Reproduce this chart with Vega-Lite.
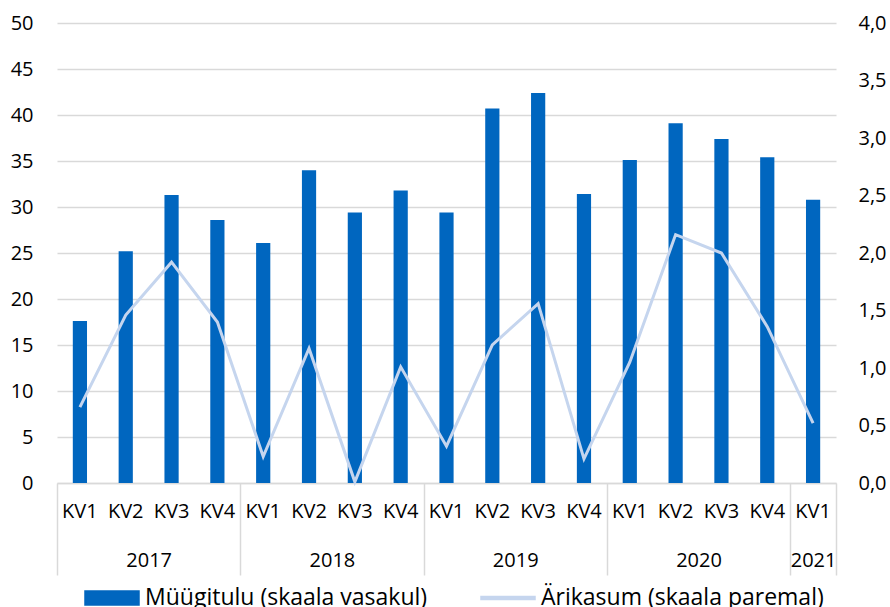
{
  "$schema": "https://vega.github.io/schema/vega-lite/v6.json",
  "width": 779,
  "height": 460,
  "autosize": "none",
  "padding": {"left": 57, "top": 23, "right": 54, "bottom": 124},
  "background": "white",
  "config": {
    "font": "Open Sans",
    "view": {"stroke": null},
    "axis": {"labelFontSize": 20, "labelColor": "#000000", "title": null}
  },
  "layer": [
    {
      "data": {
        "values": [
          {"q": "2017 KV1", "sales": 17.6, "profit": 0.66},
          {"q": "2017 KV2", "sales": 25.2, "profit": 1.46},
          {"q": "2017 KV3", "sales": 31.3, "profit": 1.92},
          {"q": "2017 KV4", "sales": 28.6, "profit": 1.40},
          {"q": "2018 KV1", "sales": 26.1, "profit": 0.23},
          {"q": "2018 KV2", "sales": 34.0, "profit": 1.17},
          {"q": "2018 KV3", "sales": 29.4, "profit": 0.01},
          {"q": "2018 KV4", "sales": 31.8, "profit": 1.01},
          {"q": "2019 KV1", "sales": 29.4, "profit": 0.32},
          {"q": "2019 KV2", "sales": 40.7, "profit": 1.20},
          {"q": "2019 KV3", "sales": 42.4, "profit": 1.56},
          {"q": "2019 KV4", "sales": 31.4, "profit": 0.21},
          {"q": "2020 KV1", "sales": 35.1, "profit": 1.05},
          {"q": "2020 KV2", "sales": 39.1, "profit": 2.16},
          {"q": "2020 KV3", "sales": 37.4, "profit": 2.00},
          {"q": "2020 KV4", "sales": 35.4, "profit": 1.36},
          {"q": "2021 KV1", "sales": 30.8, "profit": 0.52}
        ]
      },
      "layer": [
        {
          "mark": {"type": "bar", "width": {"band": 0.31}},
          "encoding": {
            "x": {
              "field": "q", "type": "nominal",
              "scale": {"paddingInner": 0, "paddingOuter": 0},
              "axis": {
                "labelExpr": "split(datum.value, ' ')[1]",
                "labelAngle": 0,
                "ticks": false,
                "domain": true,
                "domainColor": "#d9d9d9",
                "domainWidth": 1.5,
                "labelPadding": 18,
                "grid": false
              }
            },
            "y": {
              "field": "sales", "type": "quantitative",
              "scale": {"domain": [0, 50], "nice": false},
              "axis": {
                "orient": "left",
                "values": [0, 5, 10, 15, 20, 25, 30, 35, 40, 45, 50],
                "grid": true,
                "gridColor": "#d9d9d9",
                "gridWidth": 1.5,
                "domain": false,
                "ticks": false,
                "labelPadding": 24
              }
            },
            "color": {
              "datum": "Müügitulu (skaala vasakul)",
              "scale": {
                "domain": ["Müügitulu (skaala vasakul)", "Ärikasum (skaala paremal)"],
                "range": ["#0066bf", "#c5d5ee"]
              },
              "legend": {
                "title": null,
                "orient": "none",
                "legendX": 27,
                "legendY": 547,
                "direction": "horizontal",
                "labelFontSize": 23,
                "labelLimit": 500,
                "labelColor": "#000000",
                "symbolSize": 2916,
                "labelOffset": 5,
                "columnPadding": 50,
                "encode": {
                  "symbols": {
                    "update": {
                      "shape": {"signal": "datum.value === 'Ärikasum (skaala paremal)' ? 'M-1,-0.055H1V0.055H-1Z' : 'M-1,-0.26H1V0.26H-1Z'"},
                      "fill": {"scale": "color", "field": "value"},
                      "stroke": {"value": "transparent"},
                      "opacity": {"value": 1}
                    }
                  }
                }
              }
            }
          }
        },
        {
          "mark": {"type": "line", "strokeWidth": 3},
          "encoding": {
            "x": {"field": "q", "type": "nominal"},
            "y": {
              "field": "profit", "type": "quantitative",
              "scale": {"domain": [0, 4], "nice": false},
              "axis": {
                "orient": "right",
                "values": [0, 0.5, 1, 1.5, 2, 2.5, 3, 3.5, 4],
                "labelExpr": "replace(format(datum.value, '.1f'), '.', ',')",
                "grid": false,
                "domain": false,
                "ticks": false,
                "labelPadding": 22
              }
            },
            "color": {"datum": "Ärikasum (skaala paremal)"}
          }
        }
      ],
      "resolve": {"scale": {"y": "independent"}}
    },
    {
      "data": {
        "values": [
          {"year": "2017", "pos": 2},
          {"year": "2018", "pos": 6},
          {"year": "2019", "pos": 10},
          {"year": "2020", "pos": 14},
          {"year": "2021", "pos": 16.5}
        ]
      },
      "mark": {"type": "point", "opacity": 0},
      "encoding": {
        "x": {
          "field": "pos", "type": "quantitative",
          "scale": {"domain": [0, 17], "nice": false, "zero": false},
          "axis": {
            "orient": "bottom",
            "values": [0, 2, 4, 6, 8, 10, 12, 14, 16, 16.5, 17],
            "labelExpr": "datum.value == 2 ? '2017' : datum.value == 6 ? '2018' : datum.value == 10 ? '2019' : datum.value == 14 ? '2020' : datum.value == 16.5 ? '2021' : ''",
            "domain": false,
            "grid": false,
            "ticks": true,
            "tickSize": 92,
            "tickColor": "#d9d9d9",
            "tickWidth": 1.5,
            "tickOpacity": {"condition": {"test": "datum.value % 4 == 0 || datum.value == 17", "value": 1}, "value": 0},
            "labelPadding": -25,
            "labelFlush": false,
            "labelOverlap": false
          }
        }
      }
    }
  ],
  "resolve": {"scale": {"x": "independent", "y": "independent"}}
}
